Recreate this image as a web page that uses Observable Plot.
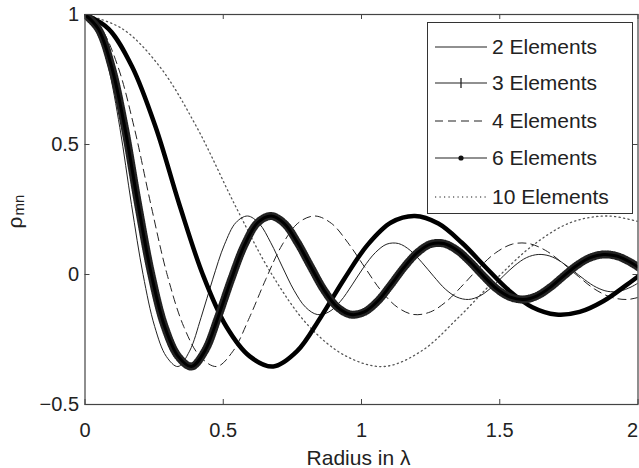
<!DOCTYPE html>
<html><head><meta charset="utf-8">
<script src="https://cdn.jsdelivr.net/npm/d3@7"></script>
<script src="https://cdn.jsdelivr.net/npm/@observablehq/plot@0.6"></script>
<style>
body{margin:0;background:#fff}
#wrap{position:relative;width:639px;height:468px;font-family:"Liberation Sans",Arial,Helvetica,sans-serif;}
#legend{position:absolute;left:427px;top:22px;width:206px;height:192px;box-sizing:border-box;border:1px solid #333;background:#fff}
.row{position:absolute;left:0;height:26px;display:flex;align-items:center}
.row svg{margin-left:7px;margin-right:5px;display:block}
.row span{font-size:21px;color:#222;white-space:nowrap}
</style></head><body><div id="wrap"></div>
<script>
// ---- data ----
const seriesNames = ["2 Elements", "3 Elements", "4 Elements", "6 Elements", "10 Elements"];
const xTicks = [0, 0.5, 1, 1.5, 2];
const yTicks = [-0.5, 0, 0.5, 1];

const radius2 = [0,0.042,0.084,0.126,0.168,0.210,0.252,0.294,0.336,0.378,0.420,0.462,0.504,0.546,0.588,0.630,0.672,0.714,0.756,0.798,0.840,0.882,0.924,0.966,1.008,1.050,1.092,1.134,1.176,1.218,1.261,1.303,1.345,1.387,1.429,1.471,1.513,1.555,1.597,1.639,1.681,1.723,1.765,1.807,1.849,1.891,1.933,1.975,2.017];
const rho2 = [1,0.945,0.800,0.565,0.270,0.000,-0.200,-0.315,-0.354,-0.295,-0.165,-0.018,0.114,0.200,0.225,0.196,0.122,0.029,-0.061,-0.126,-0.154,-0.144,-0.103,-0.040,0.028,0.084,0.117,0.119,0.093,0.047,-0.007,-0.056,-0.087,-0.096,-0.082,-0.049,-0.006,0.035,0.065,0.077,0.071,0.048,0.015,-0.020,-0.049,-0.065,-0.064,-0.048,-0.022];

const radius3 = [0,0.048,0.096,0.144,0.192,0.240,0.288,0.337,0.385,0.433,0.481,0.529,0.577,0.625,0.673,0.721,0.769,0.817,0.865,0.913,0.962,1.010,1.058,1.106,1.154,1.202,1.250,1.298,1.346,1.394,1.442,1.490,1.538,1.587,1.635,1.683,1.731,1.779,1.827,1.875,1.923,1.971,2.019];
const rho3 = [1,0.945,0.800,0.565,0.270,0.000,-0.200,-0.315,-0.354,-0.295,-0.165,-0.018,0.114,0.200,0.225,0.196,0.122,0.029,-0.061,-0.126,-0.154,-0.144,-0.103,-0.040,0.028,0.084,0.117,0.119,0.093,0.047,-0.007,-0.056,-0.087,-0.096,-0.082,-0.049,-0.006,0.035,0.065,0.077,0.071,0.048,0.015];

const radius4 = [0,0.059,0.119,0.178,0.238,0.297,0.357,0.416,0.476,0.535,0.595,0.654,0.713,0.773,0.832,0.892,0.951,1.011,1.070,1.130,1.189,1.249,1.308,1.367,1.427,1.486,1.546,1.605,1.665,1.724,1.784,1.843,1.902,1.962,2.021];
const rho4 = [1,0.945,0.800,0.565,0.270,0.000,-0.200,-0.315,-0.354,-0.295,-0.165,-0.018,0.114,0.200,0.225,0.196,0.122,0.029,-0.061,-0.126,-0.154,-0.144,-0.103,-0.040,0.028,0.084,0.117,0.119,0.093,0.047,-0.007,-0.056,-0.087,-0.096,-0.082];

const radius6 = [0,0.085,0.170,0.256,0.341,0.426,0.511,0.596,0.681,0.767,0.852,0.937,1.022,1.107,1.193,1.278,1.363,1.448,1.533,1.618,1.704,1.789,1.874,1.959,2.044];
const rho6 = [1,0.945,0.800,0.565,0.270,0.000,-0.200,-0.315,-0.354,-0.295,-0.165,-0.018,0.114,0.200,0.225,0.196,0.122,0.029,-0.061,-0.126,-0.154,-0.144,-0.103,-0.040,0.028];

const radius10 = [0,0.135,0.270,0.405,0.541,0.676,0.811,0.946,1.081,1.216,1.351,1.486,1.622,1.757,1.892,2.027];
const rho10 = [1,0.945,0.800,0.565,0.270,0.000,-0.200,-0.315,-0.354,-0.295,-0.165,-0.018,0.114,0.200,0.225,0.196];

// ---- build tables ----
const table = (xs, ys) => xs.map((r, i) => ({radius: r, rho: ys[i]}));
const d2 = table(radius2, rho2), d3s = table(radius3, rho3), d4 = table(radius4, rho4),
      d6 = table(radius6, rho6), d10 = table(radius10, rho10);

const W = 639, H = 468, mL = 84.5, mR = 1.5, mT = 14, mB = 64;
const fw = W - mL - mR, fh = H - mT - mB, tk = 5;
const fmt = d => (d < 0 ? "\u2212" + Math.abs(d) : String(d));
const lastX = xTicks[xTicks.length - 1];
const lineOpts = {x: "radius", y: "rho", curve: "catmull-rom", clip: true};

const chart = Plot.plot({
  width: W, height: H,
  marginLeft: mL, marginRight: mR, marginTop: mT, marginBottom: mB,
  style: {fontFamily: '"Liberation Sans", Arial, Helvetica, sans-serif', fontSize: "20px", color: "#222", background: "white", overflow: "visible"},
  x: {domain: [0, 2], ticks: xTicks, tickSize: 0, tickPadding: 18, tickFormat: d => (d === lastX ? "" : fmt(d)), label: null},
  y: {domain: [-0.5, 1], ticks: yTicks, tickSize: 0, tickPadding: 6, tickFormat: fmt, label: null},
  marks: [
    Plot.line(d10, {...lineOpts, stroke: "#555", strokeWidth: 1.3, strokeDasharray: "1.2,3.3"}),
    Plot.line(d4, {...lineOpts, stroke: "#222", strokeWidth: 1, strokeDasharray: "8,5"}),
    Plot.line(d2, {...lineOpts, stroke: "#222", strokeWidth: 1}),
    Plot.line(d6, {...lineOpts, stroke: "#000", strokeWidth: 4.5}),
    Plot.line(d3s, {...lineOpts, stroke: "#222", strokeWidth: 8, strokeDasharray: "0.9,1.6"}),
    Plot.line(d3s, {...lineOpts, stroke: "#000", strokeWidth: 3}),
    Plot.frame({stroke: "#444", strokeWidth: 1.2}),
    Plot.tickX(xTicks, {x: d => d, insetTop: fh - tk, stroke: "#444"}),
    Plot.tickX(xTicks, {x: d => d, insetBottom: fh - tk, stroke: "#444"}),
    Plot.tickY(yTicks, {y: d => d, insetRight: fw - tk, stroke: "#444"}),
    Plot.tickY(yTicks, {y: d => d, insetLeft: fw - tk, stroke: "#444"}),
    Plot.text([lastX], {x: d => d, text: d => fmt(d), frameAnchor: "bottom", dy: 18, lineAnchor: "top", textAnchor: "end", fontSize: 20, fill: "#222"}),
    Plot.text(["Radius in \u03bb"], {text: d => d, frameAnchor: "bottom", dx: -3, dy: 54, lineAnchor: "middle", fontSize: 21, fill: "#222"}),
    Plot.text(["\u03c1"], {text: d => d, frameAnchor: "left", dx: -63.5, dy: 19, rotate: -90, textAnchor: "start", lineAnchor: "bottom", fontSize: 21, fill: "#222"}),
    Plot.text(["mn"], {text: d => d, frameAnchor: "left", dx: -61.5, dy: 6, rotate: -90, textAnchor: "start", lineAnchor: "bottom", fontSize: 15, fill: "#222"})
  ]
});

const wrap = document.getElementById("wrap");
wrap.appendChild(chart);

// ---- legend ----
const legend = document.createElement("div");
legend.id = "legend";
const rowCenters = [23.7, 60.3, 98, 135.3, 173.7];
const ns = "http://www.w3.org/2000/svg";
function sample(i) {
  const s = document.createElementNS(ns, "svg");
  s.setAttribute("width", 52); s.setAttribute("height", 24);
  const ln = document.createElementNS(ns, "line");
  ln.setAttribute("x1", 0); ln.setAttribute("x2", 52); ln.setAttribute("y1", 12); ln.setAttribute("y2", 12);
  ln.setAttribute("stroke", i === 4 ? "#666" : "#222");
  ln.setAttribute("stroke-width", i === 4 ? 1.3 : 1.1);
  if (i === 2) ln.setAttribute("stroke-dasharray", "8,5");
  if (i === 4) ln.setAttribute("stroke-dasharray", "1.2,3.3");
  s.appendChild(ln);
  if (i === 1) {
    const v = document.createElementNS(ns, "line");
    v.setAttribute("x1", 26); v.setAttribute("x2", 26); v.setAttribute("y1", 7); v.setAttribute("y2", 17);
    v.setAttribute("stroke", "#222"); v.setAttribute("stroke-width", 1.3);
    s.appendChild(v);
  }
  if (i === 3) {
    const c = document.createElementNS(ns, "circle");
    c.setAttribute("cx", 26); c.setAttribute("cy", 12); c.setAttribute("r", 2.6); c.setAttribute("fill", "#111");
    s.appendChild(c);
  }
  return s;
}
seriesNames.forEach((name, i) => {
  const row = document.createElement("div");
  row.className = "row";
  row.style.top = (rowCenters[i] - 13) + "px";
  row.appendChild(sample(i));
  const sp = document.createElement("span");
  sp.textContent = name;
  row.appendChild(sp);
  legend.appendChild(row);
});
wrap.appendChild(legend);
</script></body></html>
